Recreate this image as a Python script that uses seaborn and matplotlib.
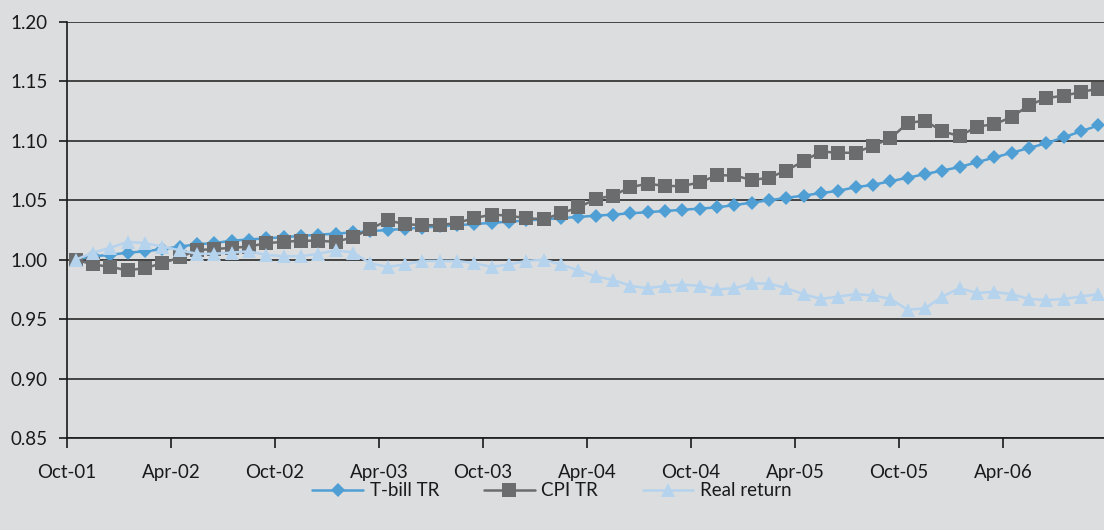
import numpy as np
import pandas as pd
import seaborn as sns
import matplotlib.pyplot as plt

# Monthly index values, Oct-01 .. Sep-06
tbill_tr = [1.000, 1.003, 1.004, 1.006, 1.007, 1.009, 1.011, 1.013, 1.014, 1.016,
            1.017, 1.018, 1.019, 1.020, 1.021, 1.022, 1.023, 1.024, 1.025, 1.026,
            1.027, 1.028, 1.029, 1.030, 1.031, 1.032, 1.033, 1.034, 1.035, 1.036,
            1.037, 1.038, 1.039, 1.040, 1.041, 1.042, 1.043, 1.044, 1.046, 1.048,
            1.050, 1.052, 1.054, 1.056, 1.058, 1.061, 1.063, 1.066, 1.069, 1.072,
            1.075, 1.078, 1.082, 1.086, 1.090, 1.094, 1.098, 1.103, 1.108, 1.113]
cpi_tr = [1.000, 0.996, 0.994, 0.991, 0.993, 0.997, 1.002, 1.008, 1.009, 1.010,
          1.011, 1.014, 1.015, 1.016, 1.016, 1.015, 1.019, 1.026, 1.033, 1.030,
          1.029, 1.029, 1.031, 1.035, 1.038, 1.037, 1.035, 1.034, 1.039, 1.044,
          1.051, 1.054, 1.061, 1.064, 1.062, 1.062, 1.065, 1.071, 1.071, 1.067,
          1.069, 1.075, 1.083, 1.091, 1.090, 1.090, 1.096, 1.102, 1.115, 1.117,
          1.108, 1.104, 1.112, 1.114, 1.120, 1.130, 1.136, 1.138, 1.141, 1.144]
real_return = [1.000, 1.006, 1.010, 1.015, 1.014, 1.011, 1.008, 1.005, 1.005, 1.006,
               1.007, 1.004, 1.003, 1.003, 1.005, 1.008, 1.006, 0.997, 0.994, 0.996,
               0.999, 0.999, 0.999, 0.997, 0.994, 0.996, 0.999, 1.000, 0.996, 0.991,
               0.986, 0.983, 0.978, 0.976, 0.978, 0.979, 0.978, 0.975, 0.976, 0.980,
               0.980, 0.976, 0.971, 0.967, 0.969, 0.971, 0.970, 0.967, 0.958, 0.959,
               0.969, 0.976, 0.972, 0.973, 0.971, 0.967, 0.966, 0.967, 0.969, 0.971]
tick_labels = ["Oct-01", "Apr-02", "Oct-02", "Apr-03", "Oct-03",
               "Apr-04", "Oct-04", "Apr-05", "Oct-05", "Apr-06"]

months = np.arange(len(tbill_tr))

sns.set_theme(style="ticks")
plt.rcParams['font.family'] = ['Lato', 'DejaVu Sans']

bg = '#dcdddf'
ink = '#1a1a1a'
fig = plt.figure(figsize=(11.04, 5.30), dpi=100, facecolor=bg)
ax = fig.add_axes([67 / 1104, 92 / 530, 1040 / 1104, 416 / 530])
ax.set_facecolor(bg)

# Series in Excel order: later ones drawn on top
sns.lineplot(x=months, y=tbill_tr, ax=ax, color='#4f9fd5', lw=1.8,
             marker='D', markersize=7, markeredgewidth=0, label='T-bill TR', zorder=3)
sns.lineplot(x=months, y=cpi_tr, ax=ax, color='#6b6c6e', lw=1.8,
             marker='s', markersize=9.5, markeredgewidth=0, label='CPI TR', zorder=4)
sns.lineplot(x=months, y=real_return, ax=ax, color='#b6d3ee', lw=1.8,
             marker='^', markersize=10, markeredgewidth=0, label='Real return', zorder=5)

ax.set_xlim(-0.5, len(months) - 0.5)
ax.set_ylim(0.85, 1.20)
yt = np.arange(0.85, 1.201, 0.05)
ax.set_yticks(yt)
ax.set_yticklabels([f"{v:.2f}" for v in yt])
ax.set_xticks(np.arange(-0.5, len(months) - 0.5, 6))
ax.set_xticklabels(tick_labels)

ax.grid(axis='y', color='#2a2a2a', lw=1.2)
ax.set_axisbelow(True)
for side in ['top', 'right']:
    ax.spines[side].set_visible(False)
for side in ['left', 'bottom']:
    ax.spines[side].set_color(ink)
    ax.spines[side].set_linewidth(1.2)

ax.tick_params(axis='y', length=6, width=1.2, color=ink, pad=8,
               labelsize=13.5, labelcolor=ink)
ax.tick_params(axis='x', length=7, width=1.2, color=ink, pad=12,
               labelsize=13.5, labelcolor=ink)
ax.set_xlabel('')
ax.set_ylabel('')

ax.legend(loc='center', bbox_to_anchor=(0.5, 39 / 530), bbox_transform=fig.transFigure,
          ncol=3, frameon=False, fontsize=13.5, handlelength=2.7, handletextpad=0.35,
          columnspacing=2.4, labelcolor=ink)

fig.savefig('out.png', dpi=100, facecolor=bg)
